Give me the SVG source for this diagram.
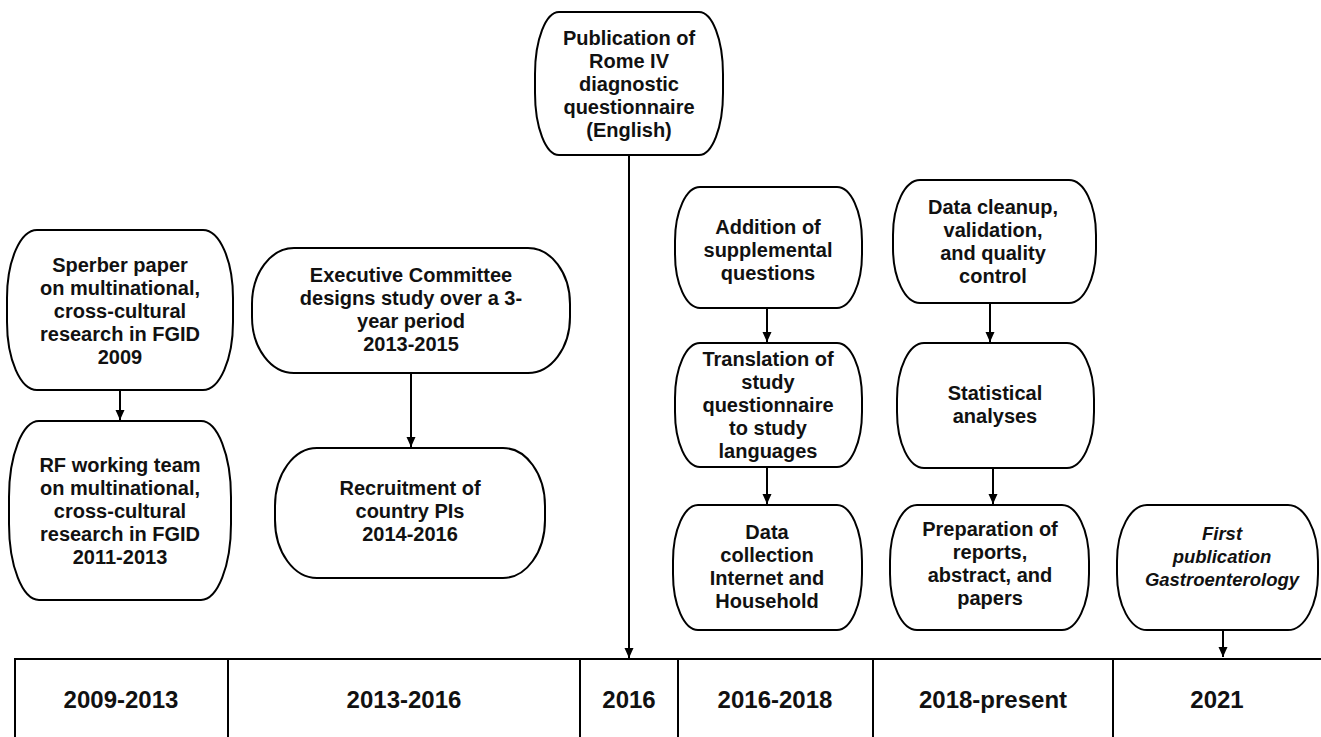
<svg xmlns="http://www.w3.org/2000/svg" width="1321" height="737" viewBox="0 0 1321 737">
<style>
.box{fill:#fff;stroke:#000;stroke-width:2}
.t{font-family:"Liberation Sans",Arial,sans-serif;font-weight:bold;font-size:20px;fill:#111;text-anchor:middle}
.ti{font-family:"Liberation Sans",Arial,sans-serif;font-weight:bold;font-style:italic;font-size:18.5px;fill:#111;text-anchor:middle}
.yr{font-family:"Liberation Sans",Arial,sans-serif;font-weight:bold;font-size:24px;fill:#111;text-anchor:middle}
.c{stroke:#000;stroke-width:2;fill:none;marker-end:url(#ah)}
.grid{stroke:#000;stroke-width:2;fill:none}
</style>
<defs>
<marker id="ah" markerUnits="userSpaceOnUse" markerWidth="10" markerHeight="10" refX="10" refY="4.5" orient="auto">
<path d="M0,0 L10,4.5 L0,9 z" fill="#000"/>
</marker>
</defs>
<rect width="1321" height="737" fill="#fff"/>
<g id="connectors">
<line class="c" x1="629" y1="155" x2="629" y2="658"/>
<line class="c" x1="120" y1="390" x2="120" y2="420"/>
<line class="c" x1="411" y1="373" x2="411" y2="447"/>
<line class="c" x1="767" y1="308" x2="767" y2="342"/>
<line class="c" x1="767" y1="467" x2="767" y2="504"/>
<line class="c" x1="990" y1="303" x2="990" y2="342"/>
<line class="c" x1="993" y1="468" x2="993" y2="504"/>
<line class="c" x1="1223" y1="630" x2="1223" y2="657"/>
</g>
<g id="timeline">
<line class="grid" x1="14" y1="659" x2="1321" y2="659" stroke-width="1.5"/>
<line class="grid" x1="15" y1="659" x2="15" y2="737"/>
<line class="grid" x1="228" y1="659" x2="228" y2="737"/>
<line class="grid" x1="580" y1="659" x2="580" y2="737"/>
<line class="grid" x1="678" y1="659" x2="678" y2="737"/>
<line class="grid" x1="873" y1="659" x2="873" y2="737"/>
<line class="grid" x1="1113" y1="659" x2="1113" y2="737"/>
<text class="yr" x="121" y="708">2009-2013</text>
<text class="yr" x="404" y="708">2013-2016</text>
<text class="yr" x="629" y="708">2016</text>
<text class="yr" x="775" y="708">2016-2018</text>
<text class="yr" x="993" y="708">2018-present</text>
<text class="yr" x="1217" y="708">2021</text>
</g>
<g id="publication">
<rect class="box" x="535" y="12" width="188" height="143" rx="24" ry="62"/>
<text class="t" x="629" y="45">Publication of</text>
<text class="t" x="629" y="68">Rome IV</text>
<text class="t" x="629" y="91">diagnostic</text>
<text class="t" x="629" y="114">questionnaire</text>
<text class="t" x="629" y="137">(English)</text>
</g>
<g id="sperber">
<rect class="box" x="7" y="230" width="226" height="160" rx="30" ry="68"/>
<text class="t" x="120" y="272">Sperber paper</text>
<text class="t" x="120" y="295">on multinational,</text>
<text class="t" x="120" y="318">cross-cultural</text>
<text class="t" x="120" y="341">research in FGID</text>
<text class="t" x="120" y="364">2009</text>
</g>
<g id="rf-team">
<rect class="box" x="9" y="421" width="222" height="179" rx="30" ry="76"/>
<text class="t" x="120" y="472">RF working team</text>
<text class="t" x="120" y="495">on multinational,</text>
<text class="t" x="120" y="518">cross-cultural</text>
<text class="t" x="120" y="541">research in FGID</text>
<text class="t" x="120" y="564">2011-2013</text>
</g>
<g id="executive">
<rect class="box" x="252" y="248" width="318" height="125" rx="42" ry="56"/>
<text class="t" x="411" y="282">Executive Committee</text>
<text class="t" x="411" y="305">designs study over a 3-</text>
<text class="t" x="411" y="328">year period</text>
<text class="t" x="411" y="351">2013-2015</text>
</g>
<g id="recruitment">
<rect class="box" x="275" y="448" width="270" height="130" rx="42" ry="58"/>
<text class="t" x="410" y="495">Recruitment of</text>
<text class="t" x="410" y="518">country PIs</text>
<text class="t" x="410" y="541">2014-2016</text>
</g>
<g id="addition">
<rect class="box" x="675" y="187" width="187" height="121" rx="25" ry="54"/>
<text class="t" x="768" y="234">Addition of</text>
<text class="t" x="768" y="257">supplemental</text>
<text class="t" x="768" y="280">questions</text>
</g>
<g id="translation">
<rect class="box" x="675" y="343" width="187" height="124" rx="25" ry="55"/>
<text class="t" x="768" y="366">Translation of</text>
<text class="t" x="768" y="389">study</text>
<text class="t" x="768" y="412">questionnaire</text>
<text class="t" x="768" y="435">to study</text>
<text class="t" x="768" y="458">languages</text>
</g>
<g id="data-collection">
<rect class="box" x="673" y="505" width="189" height="125" rx="25" ry="56"/>
<text class="t" x="767" y="539">Data</text>
<text class="t" x="767" y="562">collection</text>
<text class="t" x="767" y="585">Internet and</text>
<text class="t" x="767" y="608">Household</text>
</g>
<g id="data-cleanup">
<rect class="box" x="893" y="180" width="203" height="123" rx="27" ry="55"/>
<text class="t" x="993" y="214">Data cleanup,</text>
<text class="t" x="993" y="237">validation,</text>
<text class="t" x="993" y="260">and quality</text>
<text class="t" x="993" y="283">control</text>
</g>
<g id="statistical">
<rect class="box" x="897" y="343" width="197" height="125" rx="27" ry="56"/>
<text class="t" x="995" y="400">Statistical</text>
<text class="t" x="995" y="423">analyses</text>
</g>
<g id="preparation">
<rect class="box" x="890" y="505" width="199" height="125" rx="27" ry="56"/>
<text class="t" x="990" y="536">Preparation of</text>
<text class="t" x="990" y="559">reports,</text>
<text class="t" x="990" y="582">abstract, and</text>
<text class="t" x="990" y="605">papers</text>
</g>
<g id="first-publication">
<rect class="box" x="1117" y="505" width="201" height="125" rx="30" ry="56"/>
<text class="ti" x="1222" y="540">First</text>
<text class="ti" x="1222" y="563">publication</text>
<text class="ti" x="1222" y="586">Gastroenterology</text>
</g>
</svg>
